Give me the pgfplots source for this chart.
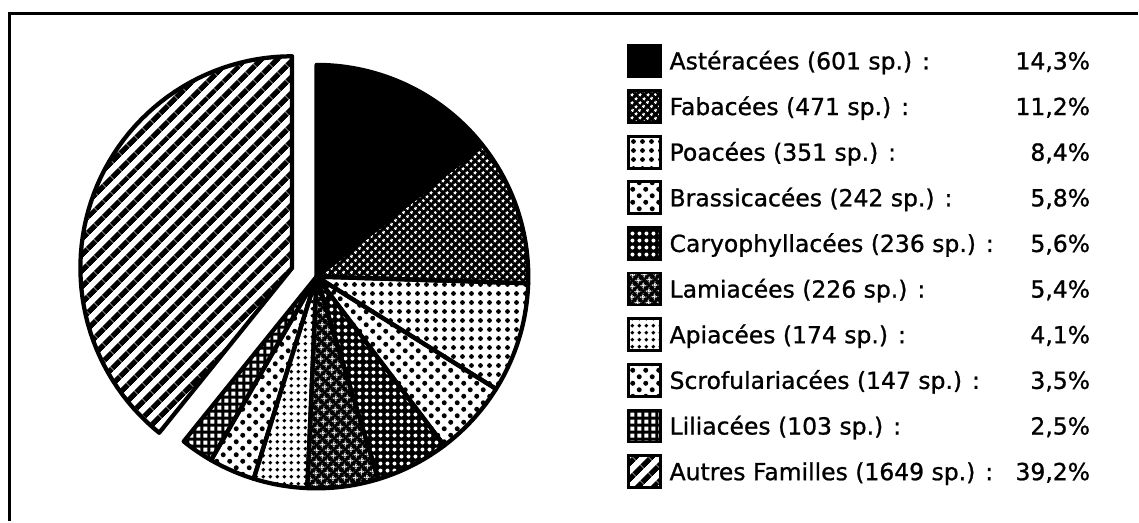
\documentclass[border=0pt]{standalone}
\usepackage{fontspec}
\setmainfont{DejaVu Sans}[FakeBold=1]
\usepackage{pgfplots}
\pgfplotsset{compat=1.18}
\usetikzlibrary{patterns.meta}

% ---------- patterns (1px = 0.4pt) ----------
\tikzdeclarepattern{name=Pdots, type=uncolored,
  bottom left={(0pt,0pt)}, top right={(3.6pt,3.6pt)}, tile size={(3.6pt,3.6pt)},
  code={\pgfpathcircle{\pgfpoint{1.8pt}{1.8pt}}{0.95pt}\pgfusepath{fill}}}
\tikzdeclarepattern{name=Adots, type=uncolored,
  bottom left={(0pt,0pt)}, top right={(2.9pt,2.9pt)}, tile size={(2.9pt,2.9pt)},
  code={\pgfpathcircle{\pgfpoint{1.45pt}{1.45pt}}{0.85pt}\pgfusepath{fill}}}
\tikzdeclarepattern{name=Sdots, type=uncolored,
  bottom left={(0pt,0pt)}, top right={(5.2pt,5.2pt)}, tile size={(5.2pt,5.2pt)},
  code={\pgfpathcircle{\pgfpoint{1.3pt}{1.3pt}}{1.0pt}\pgfpathcircle{\pgfpoint{3.9pt}{3.9pt}}{1.0pt}\pgfusepath{fill}}}
\tikzdeclarepattern{name=Wfine, type=uncolored,
  bottom left={(0pt,0pt)}, top right={(2.4pt,2.4pt)}, tile size={(2.4pt,2.4pt)},
  tile transformation={rotate=45},
  code={\pgfpathcircle{\pgfpoint{1.2pt}{1.2pt}}{0.7pt}\pgfusepath{fill}}}
\tikzdeclarepattern{name=Wdots, type=uncolored,
  bottom left={(0pt,0pt)}, top right={(2.8pt,2.8pt)}, tile size={(2.8pt,2.8pt)},
  code={\pgfpathcircle{\pgfpoint{1.4pt}{1.4pt}}{0.8pt}\pgfusepath{fill}}}
\tikzdeclarepattern{name=Wsquares, type=uncolored,
  bottom left={(0pt,0pt)}, top right={(2.8pt,2.8pt)}, tile size={(2.8pt,2.8pt)},
  code={\pgfpathrectangle{\pgfpoint{0.6pt}{0.6pt}}{\pgfpoint{1.6pt}{1.6pt}}\pgfusepath{fill}}}
\tikzdeclarepattern{name=Wstars, type=uncolored,
  bottom left={(0pt,0pt)}, top right={(3.4pt,3.4pt)}, tile size={(3.4pt,3.4pt)},
  tile transformation={rotate=45},
  code={\pgfpathmoveto{\pgfpoint{3.0pt}{3.0pt}}
        \pgfpathlineto{\pgfpoint{1.7pt}{2.15pt}}
        \pgfpathlineto{\pgfpoint{0.4pt}{3.0pt}}
        \pgfpathlineto{\pgfpoint{1.25pt}{1.7pt}}
        \pgfpathlineto{\pgfpoint{0.4pt}{0.4pt}}
        \pgfpathlineto{\pgfpoint{1.7pt}{1.25pt}}
        \pgfpathlineto{\pgfpoint{3.0pt}{0.4pt}}
        \pgfpathlineto{\pgfpoint{2.15pt}{1.7pt}}
        \pgfpathclose\pgfusepath{fill}}}
\tikzdeclarepattern{name=Stripes, type=uncolored,
  bottom left={(0pt,0pt)}, top right={(4.4pt,4.4pt)}, tile size={(4.4pt,4.4pt)},
  tile transformation={rotate=45},
  code={\pgfpathrectangle{\pgfpoint{-0.1pt}{0pt}}{\pgfpoint{4.6pt}{2.2pt}}\pgfusepath{fill}}}

\tikzset{
  sA/.style={fill=black},
  sF/.style={fill=black, postaction={pattern=Wfine, pattern color=white}},
  sP/.style={pattern=Pdots},
  sB/.style={pattern=Sdots},
  sC/.style={fill=black, postaction={pattern=Wdots, pattern color=white}},
  sL/.style={fill=black, postaction={pattern=Wstars, pattern color=white}},
  sAp/.style={pattern=Adots},
  sS/.style={pattern=Sdots},
  sLi/.style={fill=black, postaction={pattern=Wsquares, pattern color=white}},
  sAu/.style={pattern=Stripes},
}

% ---------- data: shares in percent ----------
\def\pA{14.3}\def\pF{11.2}\def\pP{8.4}\def\pB{5.8}\def\pC{5.6}
\def\pL{5.4}\def\pAp{4.1}\def\pS{3.5}\def\pLi{2.5}\def\pAu{39.2}

\pgfmathsetmacro\aO{90}
\pgfmathsetmacro\aA{\aO-3.6*\pA}
\pgfmathsetmacro\aF{\aA-3.6*\pF}
\pgfmathsetmacro\aP{\aF-3.6*\pP}
\pgfmathsetmacro\aB{\aP-3.6*\pB}
\pgfmathsetmacro\aC{\aB-3.6*\pC}
\pgfmathsetmacro\aL{\aC-3.6*\pL}
\pgfmathsetmacro\aAp{\aL-3.6*\pAp}
\pgfmathsetmacro\aS{\aAp-3.6*\pS}
\pgfmathsetmacro\aLi{\aS-3.6*\pLi}
\pgfmathsetmacro\aAu{\aLi-3.6*\pAu}
\pgfmathsetmacro\aMid{(\aLi+\aAu)/2}

\def\cx{317}\def\cy{245}\def\R{212}
\def\explode{26}
\pgfmathsetmacro\ex{\cx+\explode*cos(\aMid)}
\pgfmathsetmacro\ey{\cy+\explode*sin(\aMid)}

\newcommand\slice[5]{% start end style centerx centery
  \addplot[#3, draw=none, domain=#1:#2, samples=60, variable=\t]
    ({#4+\R*cos(\t)}, {#5+\R*sin(\t)}) -- (axis cs:#4,#5) -- cycle;}
\newcommand\outline[4]{%
  \addplot[draw=black, fill=none, line width=1.7pt, line join=round, domain=#1:#2, samples=60, variable=\t]
    ({#3+\R*cos(\t)}, {#4+\R*sin(\t)}) -- (axis cs:#3,#4) -- cycle;}
\newcommand\legrow[4]{% yc style label pct
  \addplot[#2, draw=none] coordinates {(629,#1-16) (661,#1-16) (661,#1+16) (629,#1+16)} -- cycle;
  \addplot[draw=black, line width=1.1pt] coordinates {(629,#1-16) (661,#1-16) (661,#1+16) (629,#1+16)} -- cycle;
  \node[anchor=base west, inner sep=0pt] at (axis cs:670,#1-8.5) {#3};
  \node[anchor=base east, inner sep=0pt] at (axis cs:1092,#1-8.5) {#4};}

\begin{document}
\fontsize{9.4pt}{11pt}\selectfont
\begin{tikzpicture}
\begin{axis}[width=455.6pt, height=208.8pt, scale only axis,
  xmin=0, xmax=1139, ymin=0, ymax=522, hide axis, clip=false]
\addplot[draw=none] coordinates {(0,0) (1139,522)};
% frame
\addplot[black, line width=1.2pt] coordinates {(10,0) (10,508) (1139,508)};
% pie
\slice{\aA}{\aO}{sA}{\cx}{\cy}
\slice{\aF}{\aA}{sF}{\cx}{\cy}
\slice{\aP}{\aF}{sP}{\cx}{\cy}
\slice{\aB}{\aP}{sB}{\cx}{\cy}
\slice{\aC}{\aB}{sC}{\cx}{\cy}
\slice{\aL}{\aC}{sL}{\cx}{\cy}
\slice{\aAp}{\aL}{sAp}{\cx}{\cy}
\slice{\aS}{\aAp}{sS}{\cx}{\cy}
\slice{\aLi}{\aS}{sLi}{\cx}{\cy}
\slice{\aAu}{\aLi}{sAu}{\ex}{\ey}
\outline{\aA}{\aO}{\cx}{\cy}
\outline{\aF}{\aA}{\cx}{\cy}
\outline{\aP}{\aF}{\cx}{\cy}
\outline{\aB}{\aP}{\cx}{\cy}
\outline{\aC}{\aB}{\cx}{\cy}
\outline{\aL}{\aC}{\cx}{\cy}
\outline{\aAp}{\aL}{\cx}{\cy}
\outline{\aS}{\aAp}{\cx}{\cy}
\outline{\aLi}{\aS}{\cx}{\cy}
\outline{\aAu}{\aLi}{\ex}{\ey}
% legend
\legrow{461}{sA}{Astéracées (601 sp.) :}{14,3\%}
\legrow{415.3}{sF}{Fabacées (471 sp.) :}{11,2\%}
\legrow{369.6}{sP}{Poacées (351 sp.) :}{8,4\%}
\legrow{323.9}{sB}{Brassicacées (242 sp.) :}{5,8\%}
\legrow{278.2}{sC}{Caryophyllacées (236 sp.) :}{5,6\%}
\legrow{232.5}{sL}{Lamiacées (226 sp.) :}{5,4\%}
\legrow{186.8}{sAp}{Apiacées (174 sp.) :}{4,1\%}
\legrow{141.1}{sS}{Scrofulariacées (147 sp.) :}{3,5\%}
\legrow{95.4}{sLi}{Liliacées (103 sp.) :}{2,5\%}
\legrow{49.7}{sAu}{Autres Familles (1649 sp.) :}{39,2\%}
\end{axis}
\end{tikzpicture}
\end{document}
